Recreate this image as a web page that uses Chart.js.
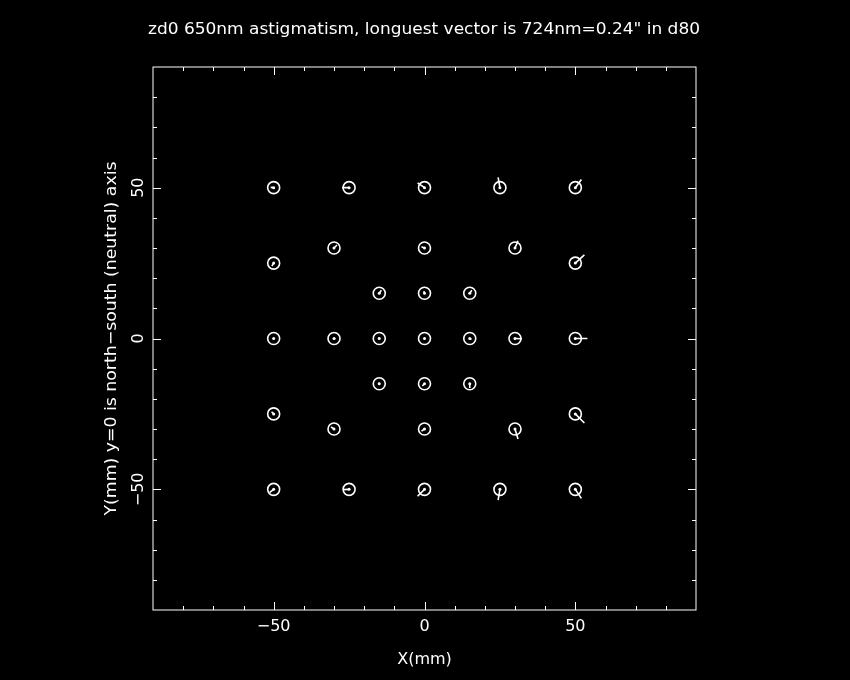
<!DOCTYPE html>
<html>
<head>
<meta charset="utf-8">
<script src="https://cdn.jsdelivr.net/npm/chart.js@4"></script>
<style>
  html, body { margin: 0; padding: 0; background: #000; }
  canvas { display: block; }
</style>
</head>
<body>
<canvas id="astigChart" width="850" height="680"></canvas>
<script>
const chartTitle = "zd0 650nm astigmatism, longuest vector is 724nm=0.24\" in d80";
const xTitle = "X(mm)";
const yTitle = "Y(mm) y=0 is north\u2212south (neutral) axis";

// focal plane positions (mm)
const pointX = [-50, -25, 0, 25, 50, -30, 0, 30, -50, 50, -15, 0, 15, -50, -30, -15, 0, 15, 30, 50, -15, 0, 15, -50, 50, -30, 0, 30, -50, -25, 0, 25, 50];
const pointY = [50, 50, 50, 50, 50, 30, 30, 30, 25, 25, 15, 15, 15, 0, 0, 0, 0, 0, 0, 0, -15, -15, -15, -25, -25, -30, -30, -30, -50, -50, -50, -50, -50];

// astigmatism vectors, in plot units
const vecU = [-1.0, -2.3, -2.3, -0.6, 2.0, 1.0, -1.0, 1.0, -0.6, 3.0, 0.7, -0.2, 0.7, 0.2, 0.3, -0.3, 0.2, 0.6, 2.3, 4.0, -0.3, -0.7, 0.0, -0.7, 3.0, -1.0, -1.0, 1.0, -1.3, -2.0, -2.3, -0.6, 2.0];
const vecV = [0.1, 0.0, 1.6, 3.4, 2.7, 1.0, 0.4, 2.4, -1.0, 2.7, 1.0, 0.7, 1.0, 0.0, 0.1, 0.3, 0.2, -0.3, -0.1, 0.0, 0.3, -0.7, -1.4, 0.7, -3.0, 0.7, -0.7, -3.3, -1.0, -0.1, -2.3, -3.6, -3.0];

const minorTicks = [-80, -70, -60, -40, -30, -20, -10, 10, 20, 30, 40, 60, 70, 80];
const majorTicks = [-50, 0, 50];
const tickLabels = ["\u221250", "0", "50"];

const FONT = "'DejaVu Sans', sans-serif";

const points = pointX.map((x, i) => ({ x, y: pointY[i] }));

// segments separated by gaps
const vectors = [];
pointX.forEach((x, i) => {
  vectors.push({ x, y: pointY[i] });
  vectors.push({ x: x + vecU[i], y: pointY[i] + vecV[i] });
  vectors.push({ x, y: null });
});

function fitText(ctx, text, x, y, targetWidth) {
  const w = ctx.measureText(text).width;
  ctx.save();
  ctx.translate(x, y);
  if (targetWidth) ctx.scale(targetWidth / w, 1);
  ctx.fillText(text, 0, 0);
  ctx.restore();
}

const framePlugin = {
  id: "frame",
  beforeDraw(chart) {
    const ctx = chart.ctx;
    ctx.save();
    ctx.fillStyle = "#000";
    ctx.fillRect(0, 0, chart.width, chart.height);
    ctx.restore();
  },
  afterDatasetsDraw(chart) {
    const { ctx, chartArea: a, scales } = chart;
    const xs = scales.x;
    const ys = scales.y;
    ctx.save();
    ctx.strokeStyle = "#fff";
    ctx.lineWidth = 1;
    ctx.strokeRect(a.left, a.top, a.right - a.left, a.bottom - a.top);

    const drawTicks = (values, len) => {
      ctx.beginPath();
      values.forEach((v) => {
        const px = Math.round(xs.getPixelForValue(v)) + 0.5;
        ctx.moveTo(px, a.bottom);
        ctx.lineTo(px, a.bottom - len);
        ctx.moveTo(px, a.top);
        ctx.lineTo(px, a.top + len);
        const py = Math.round(ys.getPixelForValue(v)) + 0.5;
        ctx.moveTo(a.left, py);
        ctx.lineTo(a.left + len, py);
        ctx.moveTo(a.right, py);
        ctx.lineTo(a.right - len, py);
      });
      ctx.stroke();
    };
    drawTicks(minorTicks, 4);
    drawTicks(majorTicks, 8);

    ctx.fillStyle = "#fff";
    ctx.font = `16px ${FONT}`;
    ctx.textAlign = "center";
    ctx.textBaseline = "middle";
    majorTicks.forEach((v, i) => {
      ctx.fillText(tickLabels[i], xs.getPixelForValue(v), a.bottom + 17);
      ctx.save();
      ctx.translate(a.left - 14, ys.getPixelForValue(v));
      ctx.rotate(-Math.PI / 2);
      ctx.fillText(tickLabels[i], 0, 0);
      ctx.restore();
    });

    ctx.fillText(xTitle, (a.left + a.right) / 2, 660);
    ctx.save();
    ctx.translate(112, (a.top + a.bottom) / 2);
    ctx.rotate(-Math.PI / 2);
    fitText(ctx, yTitle, 0, 0, 354);
    ctx.restore();

    fitText(ctx, chartTitle, 424, 30, 552);
    ctx.restore();
  },
};

new Chart(document.getElementById("astigChart"), {
  type: "scatter",
  data: {
    datasets: [
      {
        label: "vectors",
        data: vectors,
        showLine: true,
        spanGaps: false,
        borderColor: "#fff",
        borderWidth: 1.6,
        pointRadius: 0,
      },
      {
        label: "circles",
        data: points,
        pointStyle: "circle",
        pointRadius: 6,
        pointBorderWidth: 1.6,
        pointBorderColor: "#fff",
        pointBackgroundColor: "rgba(0,0,0,0)",
      },
      {
        label: "centres",
        data: points,
        pointStyle: "circle",
        pointRadius: 1.5,
        pointBorderWidth: 0,
        pointBackgroundColor: "#fff",
      },
    ],
  },
  options: {
    responsive: false,
    animation: false,
    layout: { padding: { left: 153, right: 154, top: 67, bottom: 70 } },
    scales: {
      x: { type: "linear", min: -90, max: 90, display: false },
      y: { type: "linear", min: -90, max: 90, display: false },
    },
    plugins: {
      legend: { display: false },
      tooltip: { enabled: false },
      title: { display: false },
    },
  },
  plugins: [framePlugin],
});
</script>
</body>
</html>
